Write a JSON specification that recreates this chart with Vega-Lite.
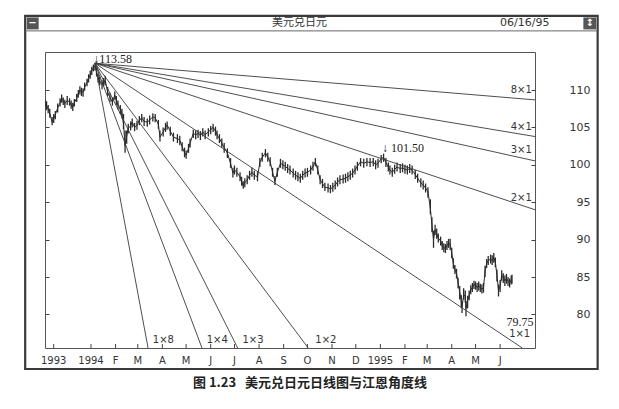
{
  "$schema": "https://vega.github.io/schema/vega-lite/v6.json",
  "width": 490,
  "height": 296,
  "autosize": {"type": "none"},
  "padding": {"left": 45, "top": 52, "right": 84, "bottom": 61},
  "background": "white",
  "config": {"view": {"stroke": "#555", "strokeWidth": 1}},
  "title": {
    "text": "图 1.23\u00a0\u00a0\u00a0美元兑日元日线图与江恩角度线",
    "orient": "bottom", "anchor": "middle", "offset": 7, "dx": 20,
    "font": "Noto Sans CJK SC", "fontSize": 13, "fontWeight": "bold", "color": "#222"
  },
  "datasets": {
    "px": [
      {"d":"1993-11-04","h":108.8,"l":107.7,"c":108.2},
      {"d":"1993-11-06","h":108.5,"l":107.3,"c":107.9},
      {"d":"1993-11-08","h":108.0,"l":106.9,"c":107.5},
      {"d":"1993-11-10","h":107.5,"l":106.3,"c":106.9},
      {"d":"1993-11-13","h":106.4,"l":105.3,"c":105.7},
      {"d":"1993-11-15","h":106.8,"l":105.6,"c":106.2},
      {"d":"1993-11-17","h":107.2,"l":106.1,"c":106.7},
      {"d":"1993-11-20","h":108.2,"l":107.0,"c":107.6},
      {"d":"1993-11-23","h":108.9,"l":107.8,"c":108.3},
      {"d":"1993-11-25","h":109.4,"l":108.3,"c":108.9},
      {"d":"1993-11-27","h":109.0,"l":108.0,"c":108.5},
      {"d":"1993-11-29","h":108.7,"l":107.6,"c":108.2},
      {"d":"1993-12-02","h":109.2,"l":108.0,"c":108.6},
      {"d":"1993-12-05","h":108.9,"l":107.9,"c":108.4},
      {"d":"1993-12-07","h":108.6,"l":107.5,"c":108.0},
      {"d":"1993-12-09","h":108.3,"l":107.2,"c":107.7},
      {"d":"1993-12-11","h":108.8,"l":107.8,"c":108.3},
      {"d":"1993-12-14","h":109.5,"l":108.4,"c":108.9},
      {"d":"1993-12-16","h":110.0,"l":109.0,"c":109.5},
      {"d":"1993-12-18","h":110.5,"l":109.4,"c":110.0},
      {"d":"1993-12-20","h":110.3,"l":109.2,"c":109.7},
      {"d":"1993-12-22","h":110.2,"l":109.1,"c":109.7},
      {"d":"1993-12-24","h":111.0,"l":109.9,"c":110.4},
      {"d":"1993-12-27","h":111.5,"l":110.5,"c":111.0},
      {"d":"1993-12-29","h":112.1,"l":111.0,"c":111.6},
      {"d":"1993-12-31","h":112.6,"l":111.5,"c":112.0},
      {"d":"1994-01-02","h":113.1,"l":112.0,"c":112.6},
      {"d":"1994-01-04","h":113.4,"l":112.5,"c":113.0},
      {"d":"1994-01-06","h":113.58,"l":112.6,"c":113.2},
      {"d":"1994-01-08","h":113.0,"l":111.8,"c":112.4},
      {"d":"1994-01-10","h":112.2,"l":111.0,"c":111.6},
      {"d":"1994-01-12","h":111.8,"l":110.6,"c":111.2},
      {"d":"1994-01-15","h":111.3,"l":110.1,"c":110.7},
      {"d":"1994-01-17","h":111.6,"l":110.5,"c":111.0},
      {"d":"1994-01-19","h":111.9,"l":110.7,"c":111.3},
      {"d":"1994-01-22","h":110.4,"l":109.2,"c":109.7},
      {"d":"1994-01-25","h":109.6,"l":108.4,"c":109.0},
      {"d":"1994-01-28","h":109.0,"l":107.9,"c":108.4},
      {"d":"1994-01-31","h":109.8,"l":108.7,"c":109.3},
      {"d":"1994-02-02","h":109.2,"l":108.0,"c":108.6},
      {"d":"1994-02-04","h":108.6,"l":107.4,"c":108.0},
      {"d":"1994-02-07","h":108.0,"l":106.8,"c":107.4},
      {"d":"1994-02-09","h":107.5,"l":106.2,"c":106.9},
      {"d":"1994-02-11","h":106.8,"l":104.8,"c":105.5},
      {"d":"1994-02-13","h":104.6,"l":101.6,"c":102.5},
      {"d":"1994-02-15","h":104.6,"l":102.8,"c":103.8},
      {"d":"1994-02-17","h":105.5,"l":104.2,"c":104.9},
      {"d":"1994-02-20","h":105.8,"l":104.6,"c":105.2},
      {"d":"1994-02-22","h":106.2,"l":105.0,"c":105.7},
      {"d":"1994-02-25","h":105.6,"l":104.5,"c":105.0},
      {"d":"1994-02-28","h":105.9,"l":104.7,"c":105.3},
      {"d":"1994-03-03","h":106.5,"l":105.3,"c":105.9},
      {"d":"1994-03-06","h":106.8,"l":105.7,"c":106.3},
      {"d":"1994-03-09","h":106.4,"l":105.2,"c":105.8},
      {"d":"1994-03-13","h":106.2,"l":105.1,"c":105.7},
      {"d":"1994-03-16","h":106.6,"l":105.4,"c":106.0},
      {"d":"1994-03-20","h":106.9,"l":105.8,"c":106.4},
      {"d":"1994-03-23","h":106.8,"l":105.7,"c":106.3},
      {"d":"1994-03-27","h":106.0,"l":104.8,"c":105.4},
      {"d":"1994-03-29","h":104.6,"l":103.1,"c":103.7},
      {"d":"1994-04-02","h":105.0,"l":103.8,"c":104.4},
      {"d":"1994-04-05","h":105.6,"l":104.4,"c":105.0},
      {"d":"1994-04-07","h":105.8,"l":104.7,"c":105.3},
      {"d":"1994-04-11","h":105.1,"l":103.9,"c":104.5},
      {"d":"1994-04-15","h":104.3,"l":103.1,"c":103.7},
      {"d":"1994-04-20","h":104.1,"l":102.9,"c":103.5},
      {"d":"1994-04-23","h":103.9,"l":102.6,"c":103.3},
      {"d":"1994-04-26","h":103.0,"l":101.8,"c":102.4},
      {"d":"1994-04-29","h":102.3,"l":101.0,"c":101.6},
      {"d":"1994-05-01","h":101.9,"l":100.8,"c":101.3},
      {"d":"1994-05-04","h":102.8,"l":101.6,"c":102.2},
      {"d":"1994-05-06","h":103.5,"l":102.3,"c":102.9},
      {"d":"1994-05-10","h":104.7,"l":103.6,"c":104.2},
      {"d":"1994-05-13","h":104.6,"l":103.4,"c":104.0},
      {"d":"1994-05-16","h":104.7,"l":103.6,"c":104.2},
      {"d":"1994-05-19","h":104.5,"l":103.3,"c":103.9},
      {"d":"1994-05-22","h":104.9,"l":103.8,"c":104.4},
      {"d":"1994-05-25","h":104.6,"l":103.4,"c":104.0},
      {"d":"1994-05-29","h":104.9,"l":103.8,"c":104.4},
      {"d":"1994-06-01","h":105.2,"l":104.1,"c":104.7},
      {"d":"1994-06-04","h":105.5,"l":104.4,"c":105.0},
      {"d":"1994-06-07","h":105.1,"l":103.9,"c":104.5},
      {"d":"1994-06-09","h":104.6,"l":103.4,"c":104.0},
      {"d":"1994-06-12","h":104.1,"l":102.9,"c":103.5},
      {"d":"1994-06-15","h":103.5,"l":102.3,"c":102.9},
      {"d":"1994-06-18","h":102.9,"l":101.6,"c":102.3},
      {"d":"1994-06-22","h":102.2,"l":100.9,"c":101.6},
      {"d":"1994-06-26","h":100.9,"l":99.6,"c":100.2},
      {"d":"1994-06-29","h":99.6,"l":98.3,"c":98.9},
      {"d":"1994-07-01","h":99.9,"l":98.7,"c":99.3},
      {"d":"1994-07-04","h":99.6,"l":98.4,"c":99.0},
      {"d":"1994-07-08","h":99.0,"l":97.8,"c":98.4},
      {"d":"1994-07-10","h":98.4,"l":97.2,"c":97.8},
      {"d":"1994-07-12","h":97.8,"l":96.8,"c":97.2},
      {"d":"1994-07-14","h":98.2,"l":97.0,"c":97.6},
      {"d":"1994-07-17","h":98.6,"l":97.4,"c":98.0},
      {"d":"1994-07-20","h":99.2,"l":98.0,"c":98.6},
      {"d":"1994-07-23","h":99.6,"l":98.4,"c":99.0},
      {"d":"1994-07-26","h":99.2,"l":98.0,"c":98.6},
      {"d":"1994-07-30","h":99.0,"l":97.8,"c":98.4},
      {"d":"1994-08-02","h":100.9,"l":99.7,"c":100.3},
      {"d":"1994-08-05","h":101.6,"l":100.4,"c":101.0},
      {"d":"1994-08-09","h":102.1,"l":101.0,"c":101.6},
      {"d":"1994-08-12","h":101.6,"l":100.4,"c":101.0},
      {"d":"1994-08-15","h":101.0,"l":99.8,"c":100.4},
      {"d":"1994-08-18","h":99.6,"l":98.4,"c":99.0},
      {"d":"1994-08-21","h":98.5,"l":97.3,"c":97.8},
      {"d":"1994-08-24","h":99.6,"l":98.4,"c":99.0},
      {"d":"1994-08-28","h":100.8,"l":99.6,"c":100.2},
      {"d":"1994-08-31","h":100.6,"l":99.4,"c":100.0},
      {"d":"1994-09-03","h":100.4,"l":99.2,"c":99.8},
      {"d":"1994-09-06","h":100.1,"l":98.9,"c":99.5},
      {"d":"1994-09-09","h":99.9,"l":98.7,"c":99.3},
      {"d":"1994-09-13","h":99.5,"l":98.3,"c":98.9},
      {"d":"1994-09-16","h":99.2,"l":98.0,"c":98.6},
      {"d":"1994-09-19","h":99.0,"l":97.8,"c":98.4},
      {"d":"1994-09-22","h":98.8,"l":97.6,"c":98.2},
      {"d":"1994-09-25","h":99.2,"l":98.0,"c":98.6},
      {"d":"1994-09-28","h":99.5,"l":98.3,"c":98.9},
      {"d":"1994-10-01","h":99.6,"l":98.4,"c":99.0},
      {"d":"1994-10-05","h":99.9,"l":98.7,"c":99.3},
      {"d":"1994-10-08","h":100.4,"l":99.2,"c":99.8},
      {"d":"1994-10-11","h":100.9,"l":99.8,"c":100.4},
      {"d":"1994-10-14","h":99.9,"l":98.7,"c":99.3},
      {"d":"1994-10-17","h":98.6,"l":97.4,"c":98.0},
      {"d":"1994-10-20","h":98.1,"l":96.9,"c":97.5},
      {"d":"1994-10-23","h":97.6,"l":96.5,"c":97.0},
      {"d":"1994-10-27","h":97.5,"l":96.3,"c":96.9},
      {"d":"1994-10-30","h":97.3,"l":96.2,"c":96.8},
      {"d":"1994-11-02","h":97.6,"l":96.4,"c":97.0},
      {"d":"1994-11-05","h":97.9,"l":96.7,"c":97.3},
      {"d":"1994-11-08","h":98.3,"l":97.1,"c":97.7},
      {"d":"1994-11-11","h":98.6,"l":97.4,"c":98.0},
      {"d":"1994-11-15","h":98.7,"l":97.5,"c":98.1},
      {"d":"1994-11-18","h":98.8,"l":97.6,"c":98.2},
      {"d":"1994-11-21","h":99.0,"l":97.8,"c":98.4},
      {"d":"1994-11-24","h":99.2,"l":98.0,"c":98.6},
      {"d":"1994-11-27","h":99.5,"l":98.3,"c":98.9},
      {"d":"1994-11-30","h":99.9,"l":98.7,"c":99.3},
      {"d":"1994-12-03","h":100.4,"l":99.2,"c":99.8},
      {"d":"1994-12-07","h":100.9,"l":99.8,"c":100.4},
      {"d":"1994-12-11","h":100.8,"l":99.6,"c":100.2},
      {"d":"1994-12-15","h":100.9,"l":99.8,"c":100.4},
      {"d":"1994-12-19","h":100.9,"l":99.7,"c":100.3},
      {"d":"1994-12-23","h":100.9,"l":99.8,"c":100.4},
      {"d":"1994-12-26","h":100.6,"l":99.4,"c":100.0},
      {"d":"1994-12-29","h":100.8,"l":99.6,"c":100.2},
      {"d":"1995-01-02","h":101.3,"l":100.2,"c":100.8},
      {"d":"1995-01-05","h":101.5,"l":100.4,"c":101.0},
      {"d":"1995-01-08","h":100.9,"l":99.7,"c":100.3},
      {"d":"1995-01-11","h":100.3,"l":99.1,"c":99.7},
      {"d":"1995-01-13","h":99.9,"l":98.7,"c":99.3},
      {"d":"1995-01-16","h":99.6,"l":98.4,"c":99.0},
      {"d":"1995-01-19","h":100.0,"l":98.8,"c":99.4},
      {"d":"1995-01-22","h":100.3,"l":99.1,"c":99.7},
      {"d":"1995-01-26","h":100.1,"l":98.9,"c":99.5},
      {"d":"1995-01-29","h":100.2,"l":99.0,"c":99.6},
      {"d":"1995-02-01","h":100.0,"l":98.8,"c":99.4},
      {"d":"1995-02-04","h":99.9,"l":98.7,"c":99.3},
      {"d":"1995-02-07","h":100.1,"l":98.9,"c":99.5},
      {"d":"1995-02-10","h":99.9,"l":98.7,"c":99.3},
      {"d":"1995-02-14","h":99.3,"l":98.1,"c":98.7},
      {"d":"1995-02-17","h":98.8,"l":97.6,"c":98.2},
      {"d":"1995-02-21","h":98.2,"l":97.0,"c":97.6},
      {"d":"1995-02-24","h":97.9,"l":96.7,"c":97.3},
      {"d":"1995-02-27","h":97.5,"l":96.3,"c":96.9},
      {"d":"1995-03-02","h":97.0,"l":95.6,"c":96.4},
      {"d":"1995-03-05","h":95.4,"l":93.4,"c":94.2},
      {"d":"1995-03-07","h":93.0,"l":91.0,"c":92.0},
      {"d":"1995-03-09","h":91.2,"l":88.9,"c":90.0},
      {"d":"1995-03-11","h":92.0,"l":90.6,"c":91.3},
      {"d":"1995-03-13","h":91.5,"l":90.1,"c":90.8},
      {"d":"1995-03-15","h":90.8,"l":89.6,"c":90.2},
      {"d":"1995-03-18","h":90.4,"l":89.2,"c":89.8},
      {"d":"1995-03-20","h":89.8,"l":88.6,"c":89.2},
      {"d":"1995-03-22","h":89.5,"l":88.3,"c":88.9},
      {"d":"1995-03-24","h":89.4,"l":88.2,"c":88.8},
      {"d":"1995-03-26","h":89.8,"l":88.6,"c":89.2},
      {"d":"1995-03-28","h":90.1,"l":88.9,"c":89.5},
      {"d":"1995-03-30","h":90.1,"l":88.6,"c":89.4},
      {"d":"1995-04-01","h":88.9,"l":87.5,"c":88.2},
      {"d":"1995-04-03","h":87.5,"l":86.1,"c":86.8},
      {"d":"1995-04-05","h":86.6,"l":85.4,"c":86.0},
      {"d":"1995-04-07","h":86.1,"l":84.8,"c":85.5},
      {"d":"1995-04-09","h":84.9,"l":83.5,"c":84.2},
      {"d":"1995-04-11","h":83.8,"l":82.0,"c":83.0},
      {"d":"1995-04-13","h":82.6,"l":80.9,"c":81.8},
      {"d":"1995-04-14","h":81.8,"l":80.2,"c":81.0},
      {"d":"1995-04-16","h":83.5,"l":82.0,"c":82.6},
      {"d":"1995-04-18","h":83.2,"l":81.6,"c":82.5},
      {"d":"1995-04-19","h":81.8,"l":79.75,"c":80.8},
      {"d":"1995-04-21","h":82.5,"l":80.8,"c":81.8},
      {"d":"1995-04-23","h":83.2,"l":81.9,"c":82.6},
      {"d":"1995-04-25","h":83.9,"l":82.7,"c":83.3},
      {"d":"1995-04-27","h":84.2,"l":83.0,"c":83.6},
      {"d":"1995-04-29","h":84.5,"l":83.4,"c":84.0},
      {"d":"1995-05-01","h":84.4,"l":83.3,"c":83.9},
      {"d":"1995-05-03","h":84.2,"l":83.0,"c":83.6},
      {"d":"1995-05-05","h":84.4,"l":83.2,"c":83.8},
      {"d":"1995-05-07","h":84.1,"l":83.0,"c":83.6},
      {"d":"1995-05-09","h":84.0,"l":82.8,"c":83.4},
      {"d":"1995-05-11","h":84.2,"l":82.9,"c":83.5},
      {"d":"1995-05-13","h":86.5,"l":85.0,"c":85.8},
      {"d":"1995-05-15","h":87.4,"l":86.2,"c":86.8},
      {"d":"1995-05-17","h":87.8,"l":86.6,"c":87.2},
      {"d":"1995-05-20","h":88.0,"l":86.8,"c":87.4},
      {"d":"1995-05-22","h":87.9,"l":86.6,"c":87.2},
      {"d":"1995-05-24","h":88.2,"l":86.9,"c":87.6},
      {"d":"1995-05-26","h":87.6,"l":86.3,"c":87.0},
      {"d":"1995-05-28","h":86.0,"l":84.4,"c":85.2},
      {"d":"1995-05-30","h":84.0,"l":82.4,"c":83.2},
      {"d":"1995-06-01","h":84.6,"l":83.0,"c":83.8},
      {"d":"1995-06-03","h":85.9,"l":84.5,"c":85.2},
      {"d":"1995-06-05","h":85.5,"l":84.2,"c":84.9},
      {"d":"1995-06-07","h":85.2,"l":83.8,"c":84.5},
      {"d":"1995-06-09","h":85.4,"l":84.1,"c":84.8},
      {"d":"1995-06-11","h":85.0,"l":83.8,"c":84.4},
      {"d":"1995-06-13","h":84.8,"l":83.6,"c":84.2},
      {"d":"1995-06-15","h":85.2,"l":84.0,"c":84.6},
      {"d":"1995-06-16","h":85.3,"l":84.1,"c":84.7}
    ],
    "gann": [
      {"g":"8x1","d":"1994-01-06","p":113.58},{"g":"8x1","d":"1995-07-15","p":108.68},
      {"g":"4x1","d":"1994-01-06","p":113.58},{"g":"4x1","d":"1995-07-15","p":103.78},
      {"g":"3x1","d":"1994-01-06","p":113.58},{"g":"3x1","d":"1995-07-15","p":100.52},
      {"g":"2x1","d":"1994-01-06","p":113.58},{"g":"2x1","d":"1995-07-15","p":93.99},
      {"g":"1x1","d":"1994-01-06","p":113.58},{"g":"1x1","d":"1995-06-29","p":75.51},
      {"g":"1x2","d":"1994-01-06","p":113.58},{"g":"1x2","d":"1994-10-02","p":75.51},
      {"g":"1x3","d":"1994-01-06","p":113.58},{"g":"1x3","d":"1994-07-05","p":75.51},
      {"g":"1x4","d":"1994-01-06","p":113.58},{"g":"1x4","d":"1994-05-21","p":75.51},
      {"g":"1x8","d":"1994-01-06","p":113.58},{"g":"1x8","d":"1994-03-14","p":75.51}
    ],
    "months": [
      {"d":"1993-11-15","t":"1993"},
      {"d":"1994-01-01","t":"1994"},
      {"d":"1994-02-01","t":"F"},
      {"d":"1994-03-01","t":"M"},
      {"d":"1994-04-01","t":"A"},
      {"d":"1994-05-01","t":"M"},
      {"d":"1994-06-01","t":"J"},
      {"d":"1994-07-01","t":"J"},
      {"d":"1994-08-01","t":"A"},
      {"d":"1994-09-01","t":"S"},
      {"d":"1994-10-01","t":"O"},
      {"d":"1994-11-01","t":"N"},
      {"d":"1994-12-01","t":"D"},
      {"d":"1995-01-01","t":"1995"},
      {"d":"1995-02-01","t":"F"},
      {"d":"1995-03-01","t":"M"},
      {"d":"1995-04-01","t":"A"},
      {"d":"1995-05-01","t":"M"},
      {"d":"1995-06-01","t":"J"}
    ]
  },
  "layer": [
    {
      "data": {"name": "px"},
      "mark": {"type": "rule", "stroke": "#2b2b2b", "strokeWidth": 1.3, "clip": true},
      "encoding": {
        "x": {"field": "d", "type": "temporal",
              "scale": {"type": "utc", "domain": [{"year": 1993, "month": 11, "date": 4, "utc": true}, {"year": 1995, "month": 7, "date": 15, "utc": true}]},
              "axis": null},
        "y": {"field": "l", "type": "quantitative",
              "scale": {"domain": [75.51, 115.08], "nice": false, "zero": false},
              "axis": {
                "orient": "right", "grid": false, "domain": false, "tickSize": -4, "tickColor": "#444",
                "values": [80, 85, 90, 95, 100, 105, 110], "labelAlign": "right", "labelBaseline": "middle",
                "labelPadding": 59, "labelFont": "DejaVu Sans", "labelFontSize": 11, "labelColor": "#333", "title": null
              }},
        "y2": {"field": "h"}
      }
    },
    {
      "data": {"name": "px"},
      "mark": {"type": "line", "stroke": "#2b2b2b", "strokeWidth": 1, "clip": true},
      "encoding": {
        "x": {"field": "d", "type": "temporal", "axis": null},
        "y": {"field": "c", "type": "quantitative",
              "axis": {"orient": "left", "grid": false, "domain": false, "labels": false, "tickSize": -4, "tickColor": "#444",
                       "values": [80, 85, 90, 95, 100, 105, 110], "title": null}}
      }
    },
    {
      "data": {"name": "gann"},
      "mark": {"type": "line", "stroke": "#3a3a3a", "strokeWidth": 0.9, "clip": true},
      "encoding": {
        "x": {"field": "d", "type": "temporal", "axis": null},
        "y": {"field": "p", "type": "quantitative", "axis": null},
        "detail": {"field": "g"}
      }
    },
    {
      "data": {"name": "months"},
      "mark": {"type": "rule", "stroke": "#444", "strokeWidth": 1},
      "encoding": {
        "x": {"field": "d", "type": "temporal", "axis": null},
        "y": {"datum": 75.51, "type": "quantitative", "axis": null},
        "y2": {"datum": 76.05}
      }
    },
    {
      "data": {"name": "months"},
      "mark": {"type": "text", "font": "DejaVu Sans", "fontSize": 10, "fill": "#333", "align": "center", "baseline": "middle"},
      "encoding": {
        "x": {"field": "d", "type": "temporal", "axis": null},
        "y": {"datum": 73.8, "type": "quantitative", "axis": null},
        "text": {"field": "t"}
      }
    },
    {
      "data": {"values": [{}]},
      "mark": {"type": "rect", "fill": "transparent", "stroke": "#3a3a3a", "strokeWidth": 2.2},
      "encoding": {
        "x": {"datum": {"year": 1993, "month": 10, "date": 10, "utc": true}, "type": "temporal", "axis": null},
        "x2": {"datum": {"year": 1995, "month": 10, "date": 2, "utc": true}},
        "y": {"datum": 119.9, "type": "quantitative", "axis": null},
        "y2": {"datum": 72.7}
      }
    },
    {
      "data": {"values": [{}]},
      "mark": {"type": "rule", "stroke": "#666", "strokeWidth": 1},
      "encoding": {
        "x": {"datum": {"year": 1993, "month": 10, "date": 10, "utc": true}, "type": "temporal", "axis": null},
        "x2": {"datum": {"year": 1995, "month": 10, "date": 2, "utc": true}},
        "y": {"datum": 117.9, "type": "quantitative", "axis": null}
      }
    },
    {
      "data": {"values": [{}]},
      "mark": {"type": "rect", "fill": "#555"},
      "encoding": {
        "x": {"datum": {"year": 1993, "month": 10, "date": 12, "utc": true}, "type": "temporal", "axis": null},
        "x2": {"datum": {"year": 1993, "month": 10, "date": 27, "utc": true}},
        "y": {"datum": 119.7, "type": "quantitative", "axis": null},
        "y2": {"datum": 118.1}
      }
    },
    {
      "data": {"values": [{}]},
      "mark": {"type": "rect", "fill": "#555"},
      "encoding": {
        "x": {"datum": {"year": 1995, "month": 9, "date": 14, "utc": true}, "type": "temporal", "axis": null},
        "x2": {"datum": {"year": 1995, "month": 9, "date": 30, "utc": true}},
        "y": {"datum": 119.7, "type": "quantitative", "axis": null},
        "y2": {"datum": 118.1}
      }
    },
    {
      "data": {"values": [
        {"d": "1993-10-19", "p": 118.9, "t": "−"},
        {"d": "1995-09-22", "p": 118.9, "t": "↕"}
      ]},
      "mark": {"type": "text", "font": "DejaVu Sans", "fontSize": 10, "fontWeight": "bold", "color": "white", "align": "center", "baseline": "middle"},
      "encoding": {
        "x": {"field": "d", "type": "temporal", "axis": null},
        "y": {"field": "p", "type": "quantitative", "axis": null},
        "text": {"field": "t"}
      }
    },
    {
      "data": {"values": [{"d": "1994-09-21", "p": 118.95, "t": "美元兑日元"}]},
      "mark": {"type": "text", "font": "Noto Sans CJK SC", "fontSize": 11, "color": "#333", "align": "center", "baseline": "middle"},
      "encoding": {
        "x": {"field": "d", "type": "temporal", "axis": null},
        "y": {"field": "p", "type": "quantitative", "axis": null},
        "text": {"field": "t"}
      }
    },
    {
      "data": {"values": [{"d": "1995-07-02", "p": 118.95, "t": "06/16/95"}]},
      "mark": {"type": "text", "font": "DejaVu Sans", "fontSize": 11, "color": "#333", "align": "center", "baseline": "middle"},
      "encoding": {
        "x": {"field": "d", "type": "temporal", "axis": null},
        "y": {"field": "p", "type": "quantitative", "axis": null},
        "text": {"field": "t"}
      }
    },
    {
      "data": {"values": [
        {"d": "1994-01-04", "p": 114.2, "t": "↓113.58"},
        {"d": "1995-01-03", "p": 102.3, "t": "↓ 101.50"}
      ]},
      "mark": {"type": "text", "font": "Liberation Serif", "fontSize": 12, "color": "#222", "align": "left", "baseline": "middle"},
      "encoding": {
        "x": {"field": "d", "type": "temporal", "axis": null},
        "y": {"field": "p", "type": "quantitative", "axis": null},
        "text": {"field": "t"}
      }
    },
    {
      "data": {"values": [{"d": "1995-07-13", "p": 79.05, "t": "79.75"}]},
      "mark": {"type": "text", "font": "Liberation Serif", "fontSize": 12, "color": "#222", "align": "right", "baseline": "middle"},
      "encoding": {
        "x": {"field": "d", "type": "temporal", "axis": null},
        "y": {"field": "p", "type": "quantitative", "axis": null},
        "text": {"field": "t"}
      }
    },
    {
      "data": {"values": [
        {"d": "1995-07-11", "p": 110.0, "t": "8×1"},
        {"d": "1995-07-11", "p": 105.05, "t": "4×1"},
        {"d": "1995-07-11", "p": 102.0, "t": "3×1"},
        {"d": "1995-07-11", "p": 95.6, "t": "2×1"},
        {"d": "1995-07-09", "p": 77.35, "t": "1×1"}
      ]},
      "mark": {"type": "text", "font": "DejaVu Sans", "fontSize": 10, "color": "#333", "align": "right", "baseline": "middle"},
      "encoding": {
        "x": {"field": "d", "type": "temporal", "axis": null},
        "y": {"field": "p", "type": "quantitative", "axis": null},
        "text": {"field": "t"}
      }
    },
    {
      "data": {"values": [
        {"d": "1994-03-20", "p": 76.6, "t": "1×8"},
        {"d": "1994-05-27", "p": 76.6, "t": "1×4"},
        {"d": "1994-07-11", "p": 76.6, "t": "1×3"},
        {"d": "1994-10-11", "p": 76.6, "t": "1×2"}
      ]},
      "mark": {"type": "text", "font": "DejaVu Sans", "fontSize": 10, "color": "#333", "align": "left", "baseline": "middle"},
      "encoding": {
        "x": {"field": "d", "type": "temporal", "axis": null},
        "y": {"field": "p", "type": "quantitative", "axis": null},
        "text": {"field": "t"}
      }
    }
  ],
  "resolve": {"axis": {"y": "independent"}}
}
